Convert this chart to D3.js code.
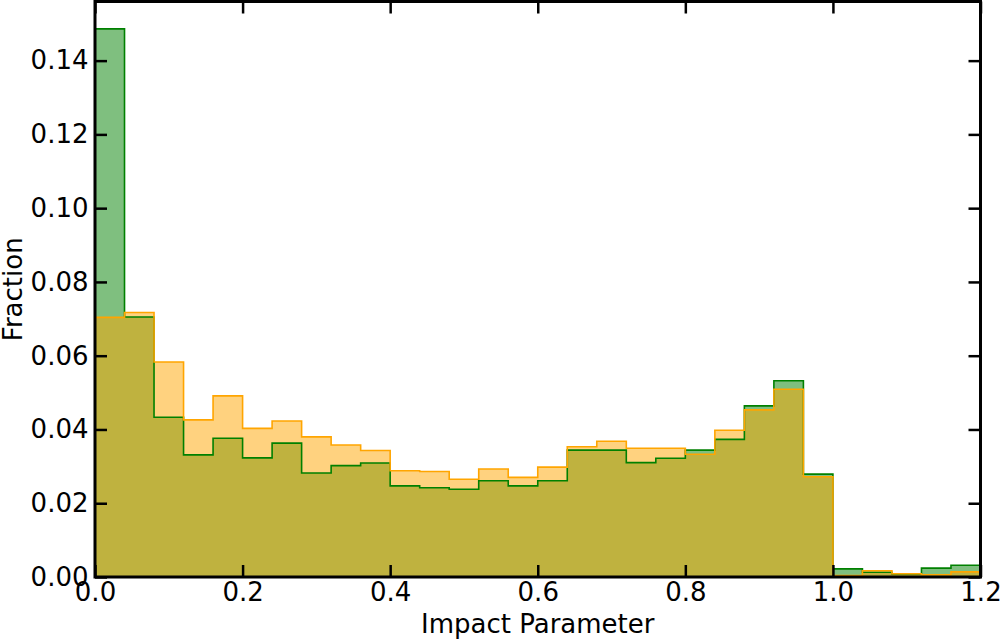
<!DOCTYPE html>
<html>
<head>
	<meta charset="utf-8">
	<title>Impact Parameter</title>
	<script src="https://cdn.jsdelivr.net/npm/d3@7"></script>
	<style>
		body { margin: 0; background: #fff; }
		svg { display: block; font-family: "DejaVu Sans", sans-serif; }
	</style>
</head>
<body>
	<div id="chart"></div>
	<script>

	// data: 30 bins of width 0.04 from 0 to 1.2
	const binEdges = d3.range(31).map(i => +(i * 0.04).toFixed(2));
	const greenValues = [
		0.1486, 0.0705, 0.0433, 0.0331, 0.0376, 0.0323, 0.0363, 0.0282, 0.0302, 0.0309,
		0.0247, 0.0242, 0.0238, 0.0261, 0.0247, 0.0261, 0.0344, 0.0344, 0.0310, 0.0322,
		0.0344, 0.0373, 0.0464, 0.0532, 0.0279, 0.0022, 0.0013, 0.0008, 0.0024, 0.0032
	];
	const orangeValues = [
		0.0704, 0.0717, 0.0583, 0.0426, 0.0491, 0.0403, 0.0423, 0.0380, 0.0358, 0.0343,
		0.0288, 0.0286, 0.0265, 0.0293, 0.0270, 0.0298, 0.0353, 0.0368, 0.0349, 0.0349,
		0.0333, 0.0398, 0.0453, 0.0509, 0.0272, 0.0004, 0.0017, 0.0009, 0.0006, 0.0014
	];
	const xTicks = [0, 0.2, 0.4, 0.6, 0.8, 1.0, 1.2];
	const yTicks = [0, 0.02, 0.04, 0.06, 0.08, 0.10, 0.12, 0.14];

	const width = 1000;
	const height = 639;
	const margin = { top: 1.5, right: 19.5, bottom: 62, left: 95 };

	const x = d3.scaleLinear()
		.domain([0, 1.2])
		.range([margin.left, width - margin.right]);
	const y = d3.scaleLinear()
		.domain([0, d3.max(greenValues) * 1.05])
		.range([height - margin.bottom, margin.top]);

	const svg = d3.select("#chart").append("svg")
		.attr("width", width)
		.attr("height", height)
		.attr("viewBox", [0, 0, width, height]);

	// step outline (closed to baseline for fill)
	function stepPoints(values) {
		const pts = [[binEdges[0], 0]];
		values.forEach((v, i) => {
			pts.push([binEdges[i], v]);
			pts.push([binEdges[i + 1], v]);
		});
		pts.push([binEdges[values.length], 0]);
		return pts;
	}

	const line = d3.line()
		.x(d => x(d[0]))
		.y(d => y(d[1]));

	const series = [
		{ values: greenValues, color: "green" },
		{ values: orangeValues, color: "orange" }
	];

	series.forEach(s => {
		svg.append("path")
			.attr("d", line(stepPoints(s.values)) + "Z")
			.attr("fill", s.color)
			.attr("fill-opacity", 0.5)
			.attr("stroke", "none");
	});
	series.forEach(s => {
		svg.append("path")
			.attr("d", line(stepPoints(s.values)))
			.attr("fill", "none")
			.attr("stroke", s.color)
			.attr("stroke-width", 1.6)
			.attr("stroke-linejoin", "miter");
	});

	const tickLen = 12;
	const fontSize = "26px";

	// axes with inward ticks on all four sides
	const bottomAxis = svg.append("g")
		.attr("transform", `translate(0,${y(0)})`)
		.call(d3.axisBottom(x).tickValues(xTicks).tickSize(-tickLen).tickPadding(6)
			.tickFormat(d3.format(".1f")));
	const topAxis = svg.append("g")
		.attr("transform", `translate(0,${margin.top})`)
		.call(d3.axisTop(x).tickValues(xTicks).tickSize(-tickLen).tickFormat(""));
	const leftAxis = svg.append("g")
		.attr("transform", `translate(${margin.left},0)`)
		.call(d3.axisLeft(y).tickValues(yTicks).tickSize(-tickLen).tickPadding(6.5)
			.tickFormat(d3.format(".2f")));
	const rightAxis = svg.append("g")
		.attr("transform", `translate(${width - margin.right},0)`)
		.call(d3.axisRight(y).tickValues(yTicks).tickSize(-tickLen).tickFormat(""));

	[bottomAxis, topAxis, leftAxis, rightAxis].forEach(g => {
		g.select(".domain").remove();
		g.selectAll(".tick line").attr("stroke", "#000").attr("stroke-width", 2.5);
		g.selectAll(".tick text")
			.attr("fill", "#000")
			.style("font-size", fontSize)
			.style("font-family", "DejaVu Sans, sans-serif");
	});

	// frame
	svg.append("rect")
		.attr("x", margin.left)
		.attr("y", margin.top)
		.attr("width", width - margin.left - margin.right)
		.attr("height", y(0) - margin.top)
		.attr("fill", "none")
		.attr("stroke", "#000")
		.attr("stroke-width", 3);

	svg.append("text")
		.attr("x", (margin.left + width - margin.right) / 2)
		.attr("y", 633)
		.attr("text-anchor", "middle")
		.style("font-size", fontSize)
		.text("Impact Parameter");

	svg.append("text")
		.attr("transform", `translate(21.5,${(margin.top + y(0)) / 2}) rotate(-90)`)
		.attr("text-anchor", "middle")
		.style("font-size", fontSize)
		.text("Fraction");

	</script>
</body>
</html>
